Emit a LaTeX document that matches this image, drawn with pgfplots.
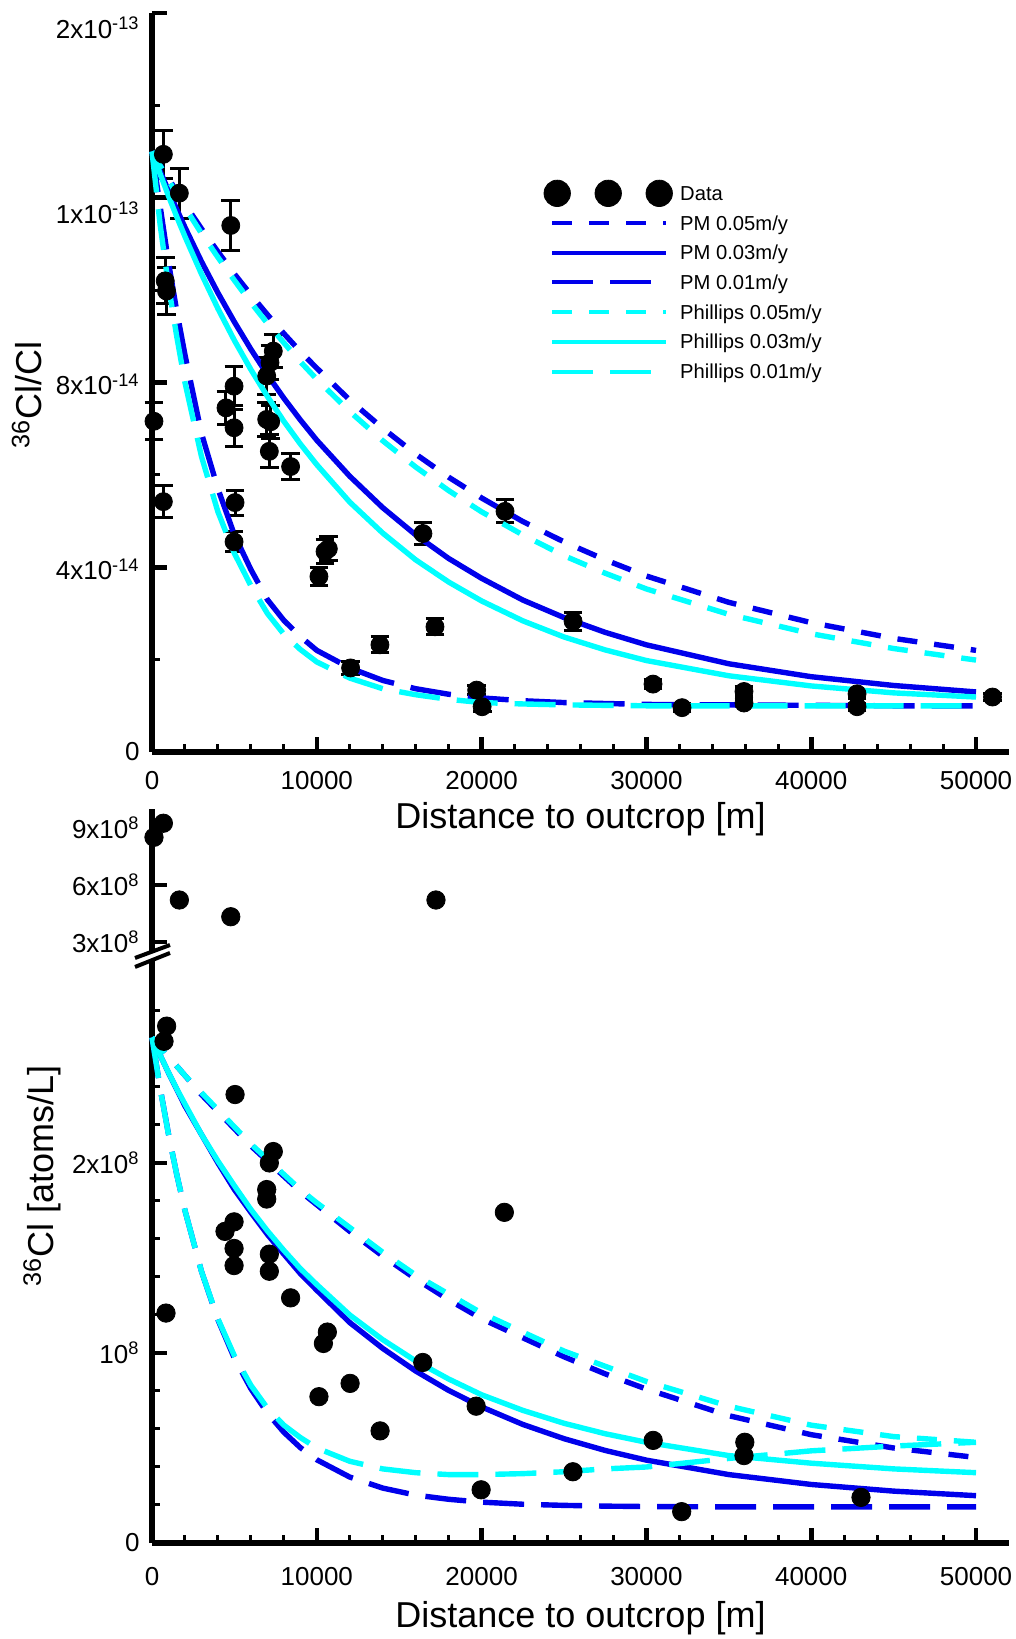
\documentclass[border=0pt]{standalone}
\usepackage{pgfplots}
\usepackage{pgfplotstable}
\pgfplotsset{compat=1.18}
\usepackage{fontspec}
\setmainfont{Liberation Sans}
\definecolor{pmblue}{RGB}{0,0,235}
\definecolor{phcyan}{RGB}{0,255,255}

% ---------- top panel: 36Cl/Cl data with error bars ----------
\pgfplotstableread{
x y e
120 7.16e-14 0.40e-14
690 12.94e-14 0.52e-14
800 10.20e-14 0.50e-14
880 9.98e-14 0.50e-14
690 5.42e-14 0.34e-14
1660 12.10e-14 0.54e-14
4780 11.40e-14 0.54e-14
4490 7.45e-14 0.35e-14
4980 7.92e-14 0.42e-14
4980 7.02e-14 0.40e-14
5040 5.40e-14 0.27e-14
4980 4.55e-14 0.22e-14
6960 8.14e-14 0.40e-14
7160 8.43e-14 0.36e-14
7360 8.68e-14 0.36e-14
6960 7.20e-14 0.36e-14
7200 7.15e-14 0.36e-14
7120 6.51e-14 0.36e-14
8410 6.18e-14 0.29e-14
10500 4.34e-14 0.26e-14
10700 4.40e-14 0.26e-14
10130 3.80e-14 0.20e-14
12050 1.82e-14 0.15e-14
13830 2.32e-14 0.17e-14
16440 4.73e-14 0.24e-14
17170 2.71e-14 0.17e-14
19700 1.34e-14 0.10e-14
20030 0.98e-14 0.10e-14
21420 5.21e-14 0.25e-14
25550 2.83e-14 0.20e-14
30400 1.47e-14 0.10e-14
32160 0.96e-14 0.08e-14
35920 1.31e-14 0.10e-14
35920 1.06e-14 0.08e-14
42780 1.26e-14 0.10e-14
42780 0.98e-14 0.08e-14
51000 1.19e-14 0.08e-14
}\topdata

% ---------- top panel: model curves ----------
\pgfplotstableread{
x pmA pmB pmC phA phB phC
0 13.0e-14 13.0e-14 13.0e-14 13.0e-14 13.0e-14 13.0e-14
500 12.70e-14 12.57e-14 11.8e-14 12.69e-14 12.51e-14 11.4e-14
1000 12.42e-14 12.15e-14 10.6e-14 12.38e-14 12.04e-14 10.1e-14
1500 12.13e-14 11.75e-14 9.55e-14 12.08e-14 11.59e-14 9.0e-14
2000 11.86e-14 11.36e-14 8.6e-14 11.79e-14 11.16e-14 8.0e-14
3000 11.33e-14 10.62e-14 6.9e-14 11.23e-14 10.35e-14 6.4e-14
4000 10.83e-14 9.94e-14 5.7e-14 10.71e-14 9.60e-14 5.2e-14
5000 10.35e-14 9.31e-14 4.7e-14 10.21e-14 8.91e-14 4.3e-14
6000 9.90e-14 8.72e-14 3.95e-14 9.73e-14 8.28e-14 3.6e-14
7000 9.47e-14 8.17e-14 3.3e-14 9.28e-14 7.70e-14 3.0e-14
8000 9.06e-14 7.66e-14 2.85e-14 8.86e-14 7.16e-14 2.55e-14
9000 8.67e-14 7.19e-14 2.5e-14 8.45e-14 6.67e-14 2.22e-14
10000 8.31e-14 6.75e-14 2.2e-14 8.07e-14 6.22e-14 1.95e-14
12000 7.62e-14 5.97e-14 1.82e-14 7.37e-14 5.41e-14 1.6e-14
14000 7.01e-14 5.29e-14 1.55e-14 6.74e-14 4.74e-14 1.37e-14
16000 6.45e-14 4.70e-14 1.37e-14 6.17e-14 4.16e-14 1.24e-14
18000 5.95e-14 4.19e-14 1.25e-14 5.66e-14 3.68e-14 1.14e-14
20000 5.50e-14 3.76e-14 1.17e-14 5.20e-14 3.27e-14 1.07e-14
22500 4.99e-14 3.29e-14 1.11e-14 4.70e-14 2.84e-14 1.04e-14
25000 4.55e-14 2.91e-14 1.07e-14 4.25e-14 2.49e-14 1.02e-14
27500 4.16e-14 2.59e-14 1.05e-14 3.87e-14 2.21e-14 1.01e-14
30000 3.81e-14 2.32e-14 1.03e-14 3.53e-14 1.98e-14 1.0e-14
35000 3.24e-14 1.91e-14 1.02e-14 2.98e-14 1.65e-14 1.0e-14
40000 2.80e-14 1.63e-14 1.01e-14 2.56e-14 1.43e-14 1.0e-14
45000 2.46e-14 1.44e-14 1.0e-14 2.24e-14 1.28e-14 1.0e-14
50000 2.20e-14 1.30e-14 1.0e-14 1.99e-14 1.19e-14 1.0e-14
}\topcurves

% ---------- bottom panel: 36Cl concentration data ----------
\pgfplotstableread{
x y
890 2.72e8
730 2.64e8
5040 2.36e8
7360 2.06e8
7120 2.00e8
6960 1.86e8
6960 1.81e8
4980 1.69e8
4430 1.64e8
4980 1.55e8
4980 1.46e8
7120 1.52e8
7120 1.43e8
8410 1.29e8
850 1.21e8
10640 1.11e8
10400 1.05e8
12020 0.84e8
10130 0.77e8
13840 0.59e8
21380 1.74e8
16430 0.95e8
19670 0.72e8
25540 0.375e8
19970 0.28e8
30410 0.54e8
32140 0.165e8
35970 0.53e8
35920 0.46e8
43020 0.24e8
}\botdata

\pgfplotstableread{
x y
120 8.51e8
690 9.25e8
1660 5.21e8
4780 4.33e8
17230 5.21e8
}\botdatahigh

\pgfplotstableread{
x pmA pmB pmC phA phB phC
0 2.66e8 2.66e8 2.66e8 2.66e8 2.66e8 2.66e8
500 2.61e8 2.566e8 2.392e8 2.61e8 2.566e8 2.39e8
1000 2.56e8 2.475e8 2.153e8 2.56e8 2.476e8 2.15e8
1500 2.51e8 2.388e8 1.94e8 2.51e8 2.39e8 1.94e8
2000 2.46e8 2.30e8 1.75e8 2.46e8 2.31e8 1.75e8
3000 2.36e8 2.15e8 1.43e8 2.37e8 2.15e8 1.43e8
4000 2.27e8 2.00e8 1.175e8 2.28e8 2.01e8 1.18e8
5000 2.18e8 1.86e8 0.972e8 2.19e8 1.88e8 0.985e8
6000 2.09e8 1.74e8 0.812e8 2.10e8 1.755e8 0.83e8
7000 2.01e8 1.624e8 0.684e8 2.02e8 1.643e8 0.71e8
8000 1.93e8 1.52e8 0.583e8 1.94e8 1.54e8 0.62e8
9000 1.85e8 1.418e8 0.502e8 1.86e8 1.444e8 0.555e8
10000 1.78e8 1.33e8 0.438e8 1.79e8 1.36e8 0.50e8
12000 1.64e8 1.16e8 0.347e8 1.66e8 1.20e8 0.43e8
14000 1.51e8 1.024e8 0.289e8 1.53e8 1.07e8 0.39e8
16000 1.39e8 0.905e8 0.252e8 1.41e8 0.958e8 0.37e8
18000 1.28e8 0.803e8 0.23e8 1.31e8 0.863e8 0.36e8
20000 1.18e8 0.716e8 0.215e8 1.21e8 0.78e8 0.36e8
22500 1.08e8 0.624e8 0.204e8 1.11e8 0.698e8 0.365e8
25000 0.98e8 0.549e8 0.198e8 1.01e8 0.63e8 0.375e8
27500 0.89e8 0.487e8 0.194e8 0.93e8 0.575e8 0.39e8
30000 0.81e8 0.436e8 0.192e8 0.85e8 0.53e8 0.40e8
35000 0.67e8 0.36e8 0.19e8 0.72e8 0.46e8 0.445e8
40000 0.57e8 0.308e8 0.19e8 0.62e8 0.42e8 0.485e8
45000 0.50e8 0.273e8 0.19e8 0.56e8 0.39e8 0.51e8
50000 0.45e8 0.249e8 0.19e8 0.53e8 0.37e8 0.53e8
}\botcurves

\pgfplotsset{
  base/.style={
    scale only axis, width=428.5pt, xmin=0, xmax=52000,
    axis lines=left, axis line style={line width=2.7pt, black, -},
    scaled x ticks=false, scaled y ticks=false,
    tick align=inside, major tick length=7.5pt, minor tick length=4pt,
    major tick style={line width=2.3pt, black},
    minor tick style={line width=1.5pt, black},
    tick label style={font=\fontsize{13}{15}\selectfont},
    yticklabel style={xshift=-2.7pt},
    label style={font=\fontsize{18}{21}\selectfont},
    clip=false,
  },
  xaxisticks/.style={
    xtick={0,10000,20000,30000,40000,50000},
    xticklabels={0,10000,20000,30000,40000,50000},
    minor x tick num=4,
  },
  pmA/.style={pmblue, line width=2.7pt, dash pattern=on 10pt off 8.5pt},
  pmB/.style={pmblue, line width=2.7pt, solid},
  pmC/.style={pmblue, line width=2.7pt, dash pattern=on 20.5pt off 8.5pt},
  phA/.style={phcyan, line width=2.7pt, dash pattern=on 10pt off 8.5pt},
  phB/.style={phcyan, line width=2.7pt, solid},
  phC/.style={phcyan, line width=2.7pt, dash pattern=on 20.5pt off 8.5pt},
}

\begin{document}
\begin{tikzpicture}
\useasboundingbox (-76pt,-48pt) rectangle (432pt,771.5pt);

% ================= top panel =================
\begin{axis}[base, xaxisticks,
  at={(0pt,395.5pt)}, anchor=south west, height=369.5pt,
  ymin=0, ymax=16e-14,
  ytick={0,4e-14,8e-14,12e-14,16e-14},
  yticklabels={0,
    \raisebox{-1pt}[\height][\depth]{4x10\textsuperscript{-14}},
    \raisebox{-1pt}[\height][\depth]{8x10\textsuperscript{-14}},
    \raisebox{-7.5pt}[\height][\depth]{1x10\textsuperscript{-13}},
    \raisebox{-7.5pt}[\height][\depth]{2x10\textsuperscript{-13}}},
  minor ytick={2e-14,6e-14,10e-14,14e-14},
  xticklabel style={yshift=-6pt},
  xlabel={Distance to outcrop [m]},
  x label style={at={(rel axis cs:0.5,0)}, anchor=base, yshift=-38.5pt},
  ylabel={\textsuperscript{36}Cl/Cl},
  y label style={at={(rel axis cs:0,0.4836)}, anchor=center, yshift=62.5pt},
  legend cell align=left,
  legend image code/.code={\draw[#1, line width=2pt] (0pt,0pt) -- (57pt,0pt);},
  legend style={at={(rel axis cs:0.4642,0.7766)}, anchor=north west,
    draw=none, fill=none, inner sep=0pt, row sep=0pt,
    font=\fontsize{10.1}{12}\selectfont,
    nodes={inner sep=0pt, text height=11.0pt, text depth=3.85pt},
    /tikz/every odd column/.append style={column sep=6pt}},
]
\addplot[only marks, mark=*, mark size=4.5pt, black, mark options={solid, fill=black},
  legend image code/.code={%
    \path[draw=none, fill=none] (0pt,-0.1pt) rectangle (57pt,0.1pt);
    \fill[black, overlay] (2.5pt,0pt) circle (6.6pt) (28pt,0pt) circle (6.6pt) (53.5pt,0pt) circle (6.6pt);},
  error bars/.cd, y dir=both, y explicit,
  error bar style={line width=1.5pt, black, solid},
  error mark options={rotate=90, mark size=4.7pt, line width=1.5pt, black, solid}]
  table[x=x, y=y, y error=e] {\topdata};
\addlegendentry{Data}
\addplot[pmA] table[x=x, y=pmA] {\topcurves};
\addlegendentry{PM 0.05m/y}
\addplot[pmB] table[x=x, y=pmB] {\topcurves};
\addlegendentry{PM 0.03m/y}
\addplot[pmC] table[x=x, y=pmC] {\topcurves};
\addlegendentry{PM 0.01m/y}
\addplot[phA] table[x=x, y=phA] {\topcurves};
\addlegendentry{Phillips 0.05m/y}
\addplot[phB] table[x=x, y=phB] {\topcurves};
\addlegendentry{Phillips 0.03m/y}
\addplot[phC] table[x=x, y=phC] {\topcurves};
\addlegendentry{Phillips 0.01m/y}
\end{axis}

% ================= bottom panel, upper (broken) segment =================
\begin{axis}[base,
  at={(0pt,295.5pt)}, anchor=south west, height=71.5pt,
  ymin=2.474e8, ymax=10e8,
  hide x axis,
  ytick={3e8,6e8,9e8},
  yticklabels={3x10\textsuperscript{8},6x10\textsuperscript{8},9x10\textsuperscript{8}},
]
\addplot[only marks, mark=*, mark size=4.6pt, black, mark options={solid, fill=black}]
  table[x=x, y=y] {\botdatahigh};
\end{axis}

% ================= bottom panel, lower segment =================
\begin{axis}[base, xaxisticks,
  at={(0pt,0pt)}, anchor=south west, height=291.5pt,
  ymin=0, ymax=3.068e8,
  ytick={0,1e8,2e8},
  yticklabels={0,10\textsuperscript{8},2x10\textsuperscript{8}},
  minor ytick={0.2e8,0.4e8,0.6e8,0.8e8,1.2e8,1.4e8,1.6e8,1.8e8,2.2e8,2.4e8,2.6e8,2.8e8},
  xticklabel style={yshift=-8.5pt},
  xlabel={Distance to outcrop [m]},
  x label style={at={(rel axis cs:0.5,0)}, anchor=base, yshift=-42pt},
  ylabel={\textsuperscript{36}Cl [atoms/L]},
  y label style={at={(rel axis cs:0,0.63)}, anchor=center, yshift=55pt},
]
\addplot[only marks, mark=*, mark size=4.6pt, black, mark options={solid, fill=black}]
  table[x=x, y=y] {\botdata};
\addplot[pmA] table[x=x, y=pmA] {\botcurves};
\addplot[pmB] table[x=x, y=pmB] {\botcurves};
\addplot[pmC] table[x=x, y=pmC] {\botcurves};
\addplot[phA] table[x=x, y=phA] {\botcurves};
\addplot[phB] table[x=x, y=phB] {\botcurves};
\addplot[phC] table[x=x, y=phC] {\botcurves};
\end{axis}

% axis break marks
\draw[line width=2pt, black] (-8.5pt,292.5pt) -- (9pt,299pt);
\draw[line width=2pt, black] (-8.5pt,288pt) -- (9pt,295pt);
\end{tikzpicture}
\end{document}
